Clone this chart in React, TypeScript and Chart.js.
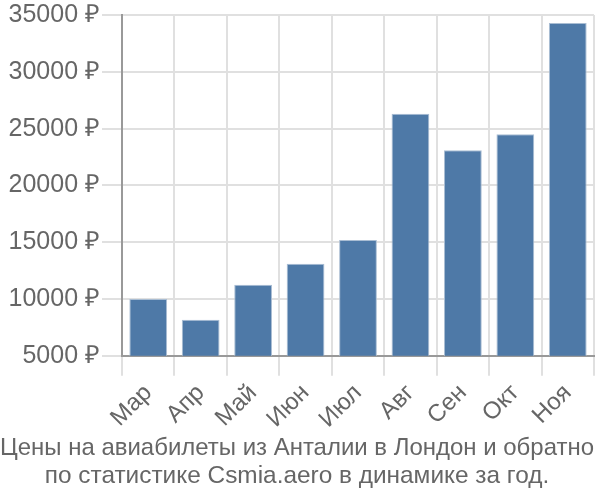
import React, { useEffect, useRef } from "react";
import { Chart, registerables } from "chart.js";

Chart.register(...registerables);

const categories = ["Мар", "Апр", "Май", "Июн", "Июл", "Авг", "Сен", "Окт", "Ноя"];
const prices = [10000, 8170, 11250, 13100, 15200, 26300, 23100, 24500, 34300];
const titleLines = [
  "Цены на авиабилеты из Анталии в Лондон и обратно",
  "по статистике Csmia.aero в динамике за год.",
];
const currency = "₽";

export default function App() {
  const ref = useRef<HTMLCanvasElement>(null);
  useEffect(() => {
    if (!ref.current) return;
    const font = "'Liberation Sans', Arial, sans-serif";
    const chart = new Chart(ref.current, {
      type: "bar",
      data: {
        labels: categories,
        datasets: [
          {
            data: prices,
            backgroundColor: "#4e79a7",
            borderColor: "#a9bdd3",
            borderWidth: 1,
            barPercentage: 0.9,
            categoryPercentage: 0.8,
          },
        ],
      },
      options: {
        animation: false,
        responsive: false,
        layout: { padding: { right: 6, top: 0 } },
        plugins: {
          legend: { display: false },
          tooltip: { enabled: false },
          title: {
            display: true,
            position: "bottom",
            text: titleLines,
            color: "#666",
            font: { family: font, size: 24.4, weight: "normal", lineHeight: 1.13 },
            padding: { top: 6, bottom: 10 },
          },
        },
        scales: {
          x: {
            afterFit: (scale: any) => {
              scale.height = 73;
            },
            grid: { color: "#e0e0e0", lineWidth: 2, offset: true, tickLength: 20 },
            border: { color: "#999", width: 2 },
            ticks: {
              color: "#666",
              font: { family: font, size: 24 },
              maxRotation: 45,
              minRotation: 45,
            },
          },
          y: {
            min: 5000,
            max: 35000,
            afterFit: (scale: any) => {
              scale.width = 122;
              scale.paddingTop = Math.max(0, (scale.paddingTop || 0) - 2);
            },
            grid: { color: "#e0e0e0", lineWidth: 2, tickLength: 20 },
            border: { color: "#999", width: 2 },
            ticks: {
              stepSize: 5000,
              color: "#666",
              font: { family: font, size: 25 },
              padding: 2,
              callback: (v: any) => `${v} ${currency}`,
            },
          },
        },
      },
    });
    return () => chart.destroy();
  }, []);
  return (
    <div style={{ position: "absolute", left: 0, top: 0, width: 600, height: 500 }}>
      <canvas ref={ref} width={600} height={500} />
    </div>
  );
}
